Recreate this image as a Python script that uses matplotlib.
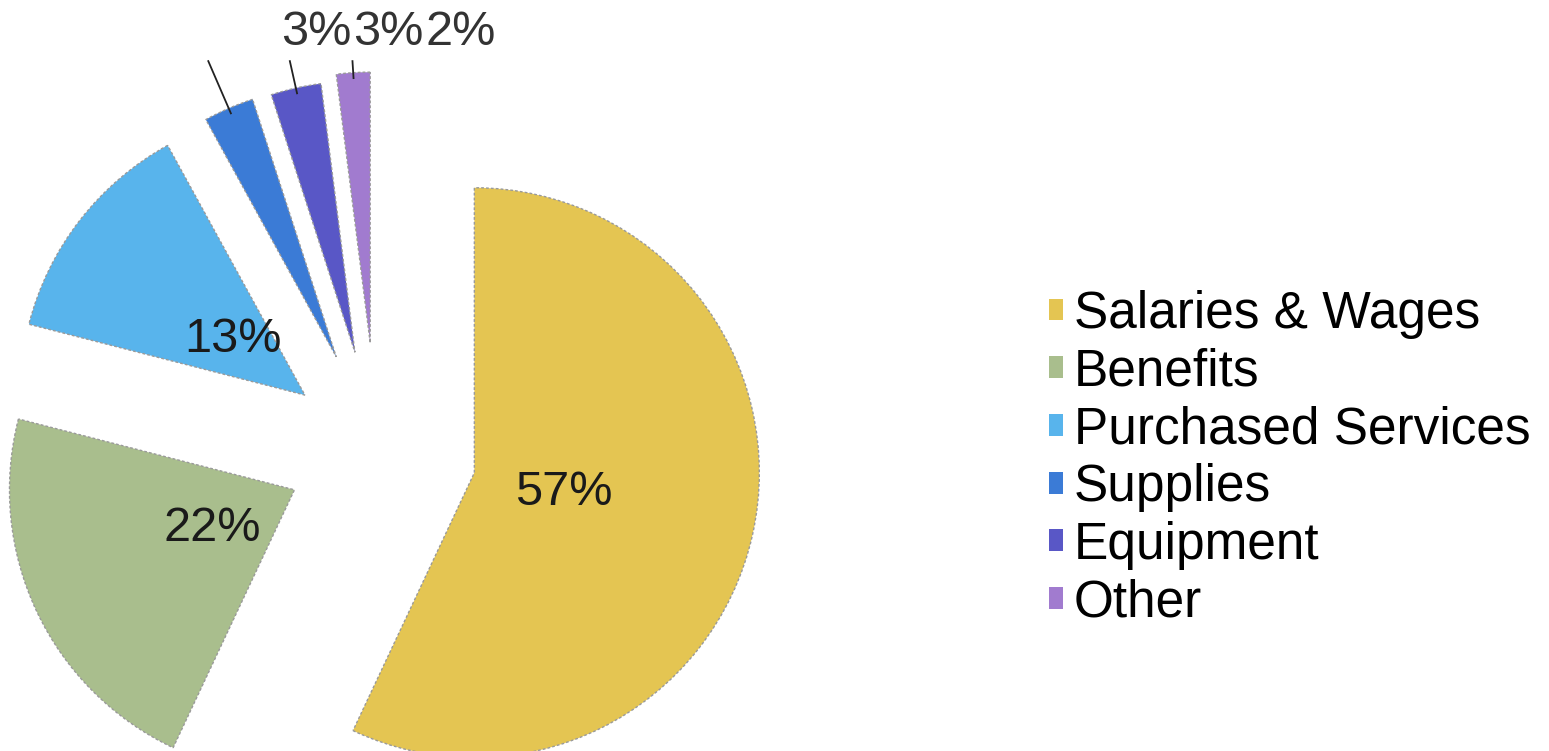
import numpy as np
import matplotlib
matplotlib.use("Agg")
import matplotlib.pyplot as plt

plt.rcParams['font.family'] = ['Liberation Sans', 'DejaVu Sans']

# chart data
categories = ["Salaries & Wages", "Benefits", "Purchased Services",
              "Supplies", "Equipment", "Other"]
shares = [57, 22, 13, 3, 3, 2]
colors = ["#E4C552", "#A9BE8D", "#58B4EC", "#3B7BD6", "#5957C6", "#A17BCF"]
explode = [0.35, 0.32, 0.32, 0.36, 0.355, 0.38]

# layout (pixels of the 1549x751 picture)
W, H = 1549, 751
R_PX = 285.0
CX, CY = 377.0, 451.0

fig = plt.figure(figsize=(W / 100, H / 100), dpi=100)
ax = fig.add_axes([0, 0, 1, 1])

wedges, texts, autotexts = ax.pie(
    shares, colors=colors, explode=explode, startangle=90, counterclock=False,
    autopct='%1.0f%%', pctdistance=0.32, radius=1.0,
    wedgeprops=dict(edgecolor="#9a9a9a", linewidth=1.0, linestyle=(0, (2, 1.5))),
    textprops=dict(fontsize=35, color="#1a1a1a"))

ax.set_aspect('auto')
ax.set_xlim(-CX / R_PX, (W - CX) / R_PX)
ax.set_ylim(-(H - CY) / R_PX, CY / R_PX)
ax.axis('off')

# small slices: a bit shorter, labels in a row above the pie with leader lines
small = [3, 4, 5]
label_y = 1.47
leader_top = 1.368
label_x0, label_step = -0.214, 0.253
for k, i in enumerate(small):
    w = wedges[i]
    w.set_radius(0.95)
    mid = np.deg2rad((w.theta1 + w.theta2) / 2)
    d = np.array([np.cos(mid), np.sin(mid)])
    c = np.array(w.center)
    start = c + w.r * 0.98 * d
    t = (leader_top - start[1]) / d[1]
    end = start + t * d
    ax.plot([start[0], end[0]], [start[1], end[1]], color="#222222", lw=1.3)
    autotexts[i].set_position((label_x0 + k * label_step, label_y))
    autotexts[i].set_color("#333333")

leg = ax.legend(wedges, categories, loc="upper left",
                bbox_to_anchor=(1049 / W, 1 - 290 / H), bbox_transform=fig.transFigure,
                frameon=False, fontsize=37, handlelength=0.28, handleheight=0.28,
                handletextpad=0.2, labelspacing=0.17, borderpad=0, borderaxespad=0)
for h in leg.legend_handles:
    h.set_linestyle('-')
    h.set_edgecolor('none')

fig.savefig("out.png", dpi=100)
